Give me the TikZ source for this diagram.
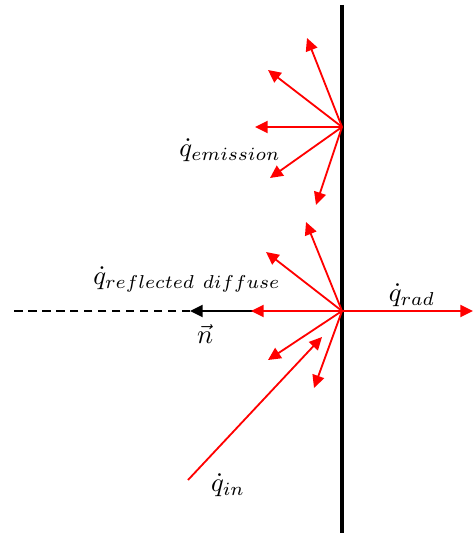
\documentclass[tikz,border=0pt]{standalone}
\usepackage{amsmath}
\usetikzlibrary{arrows.meta}
\tikzset{
  wall/.style ={draw=black,line width=1.1pt},
  ray/.style  ={-{Triangle[length=4.2pt,width=4pt]},draw=red,line width=0.6pt},
  nrm/.style  ={-{Triangle[length=4.2pt,width=4pt]},draw=black,line width=0.7pt},
  axln/.style ={draw=black,line width=0.7pt,dash pattern=on 2.8pt off 1.8pt},
  lbl/.style  ={inner sep=1pt,scale=0.88},
}
\begin{document}
\begin{tikzpicture}[x=0.33pt,y=-0.33pt]
\useasboundingbox (0,0) rectangle (474,533);

\coordinate (top)  at (342,5);
\coordinate (bot)  at (342,533);
\coordinate (emit) at (342,127);
\coordinate (refl) at (342,311);

% wall
\draw[wall] (top) -- (bot);

% surface normal, continued as a dashed axis
\coordinate (ntip) at (190,311);
\coordinate (nend) at (10,311);
\draw[axln] (ntip) -- (nend);
\draw[nrm] (refl) -- (ntip);

% emitted rays
\foreach \x/\y [count=\i] in {307/38,268/70,255/127,270/178,316/205}{
  \coordinate (e\i) at (\x,\y);
  \draw[ray] (emit) -- (e\i);
}

% diffusely reflected rays
\foreach \x/\y [count=\i] in {306/222,266/252,251/311,268/360,314/388}{
  \coordinate (r\i) at (\x,\y);
  \draw[ray] (refl) -- (r\i);
}

% incoming and transmitted
\coordinate (insrc) at (188,480);
\coordinate (intip) at (322,337);
\draw[ray] (insrc) -- (intip);
\coordinate (radtip) at (473,311);
\draw[ray] (refl) -- (radtip);

% labels
\node[lbl] (lemit) at (230,150) {$\dot q_{emission}$};
\node[lbl] (lrefl) at (187,279) {$\dot q_{reflected\ diffuse}$};
\node[lbl] (ln)    at (205,334) {$\vec n$};
\node[lbl] (lrad)  at (412,295) {$\dot q_{rad}$};
\node[lbl] (lin)   at (228,485) {$\dot q_{in}$};
\end{tikzpicture}
\end{document}
